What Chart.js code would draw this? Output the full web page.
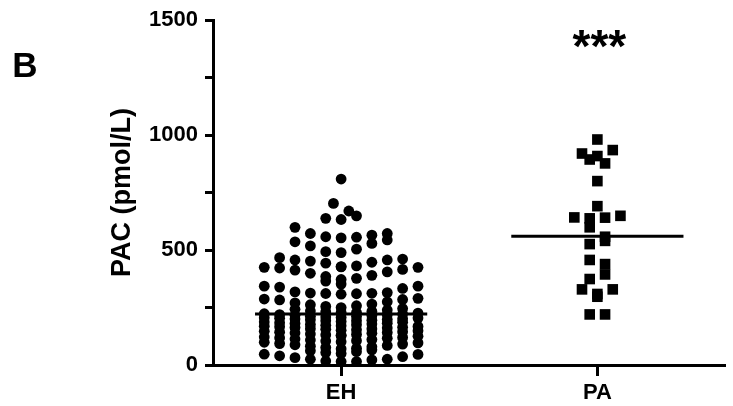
<!DOCTYPE html>
<html>
<head>
<meta charset="utf-8">
<script src="https://cdn.jsdelivr.net/npm/chart.js@4.4.1/dist/chart.umd.min.js"></script>
<style>
  html, body { margin: 0; padding: 0; background: #ffffff; }
  #wrap { width: 733px; height: 406px; }
</style>
</head>
<body>
<div id="wrap"><canvas id="c" width="733" height="406"></canvas></div>
<script>
// ---------------- data ----------------
const categories = ['EH', 'PA'];
const yAxisTitle = 'PAC (pmol/L)';
const panelLabel = 'B';
const significance = '***';
const yTicks = [0, 500, 1000, 1500];
const groupCentreLines = [222, 560];

const ehValues = [
  809, 703, 670, 649, 638, 633, 599, 572, 572, 565, 558, 556, 553, 544, 536, 529, 518, 504, 493, 489,
  467, 461, 457, 457, 452, 447, 443, 431, 428, 427, 425, 425, 422, 416, 413, 405, 399,
  390, 385, 377, 372, 365, 352, 343, 343, 339, 333,
  318, 315, 313, 312, 311, 310, 308, 290, 287, 285, 283,
  275, 270, 265, 262, 258, 255, 250, 246, 242, 239, 235,
  233, 231, 228, 228, 226, 223, 222, 219, 219, 216, 215, 212, 211, 209, 207, 206, 204, 203, 201, 200, 198, 197,
  195, 193, 192, 189, 187, 186, 184, 182, 181, 178, 176, 175, 173, 171, 169, 168, 166, 164, 163, 161, 158, 157, 155, 153, 151,
  149, 147, 145, 143, 141, 139, 138, 135, 133, 131, 129, 127, 125, 122, 120, 118, 116, 113, 111, 109, 106, 104,
  101, 99, 96, 93, 91, 88, 85, 82, 79, 76, 73, 70, 66, 62, 58, 54,
  50, 47, 46, 40, 36, 32, 25, 25, 22, 17, 15, 15
];

const paValues = [
  981, 935, 920, 909, 894, 877, 800, 691, 649, 642, 641, 638, 599,
  558, 540, 526, 457, 439, 394, 374, 329, 329, 309, 297, 220, 220
];

// ---------------- layout helpers ----------------
const FONT = '"Liberation Sans", Arial, Helvetica, sans-serif';
const SLOT = 0.06;        // horizontal spacing of swarm columns (x units)
const BIN = 60;           // height of a swarm row band (y units)
const BIN_ORIGIN = 8;
const MAX_ROW = 11;
const LINE_HALF = 0.336;  // half width of centre line (x units)

// GraphPad-like scatter: values binned into bands; each band is spread into
// rows (lowest values first), highest values of a row placed outermost.
// Bands needing several rows keep whole-slot columns so they stack into chains.
function swarm(values, centre) {
  const sorted = [...values].sort((a, b) => a - b);
  const bins = new Map();
  sorted.forEach(v => {
    const k = Math.floor((v - BIN_ORIGIN) / BIN);
    if (!bins.has(k)) bins.set(k, []);
    bins.get(k).push(v);
  });
  const pts = [];
  let flip = 1;
  for (const vs of bins.values()) {
    const multi = vs.length > MAX_ROW;
    for (let r = 0; r < vs.length; r += MAX_ROW) {
      const row = vs.slice(r, r + MAX_ROW).sort((a, b) => b - a);
      const n = row.length;
      const shift = (multi && n % 2 === 0) ? 0.5 * flip : 0;
      const offs = [];
      for (let i = 0; i < n; i++) offs.push(i - (n - 1) / 2 + shift);
      offs.sort((a, b) => (Math.abs(b) - Math.abs(a)) || (a - b) * flip);
      row.forEach((v, i) => pts.push({ x: centre + offs[i] * SLOT, y: v }));
      flip = -flip;
    }
  }
  return pts;
}

const centres = categories.map((c, i) => i + 0.5);

const datasets = [
  {
    label: categories[0],
    data: swarm(ehValues, centres[0]),
    pointStyle: 'circle', pointRadius: 5.4, pointHoverRadius: 5.4,
    backgroundColor: '#000', borderWidth: 0, showLine: false, clip: false
  },
  {
    label: categories[1],
    data: swarm(paValues, centres[1]),
    pointStyle: 'rect', pointRadius: 7.5, pointHoverRadius: 7.5,
    backgroundColor: '#000', borderWidth: 0, showLine: false, clip: false
  }
];
groupCentreLines.forEach((m, i) => {
  datasets.push({
    label: categories[i] + ' centre',
    data: [{ x: centres[i] - LINE_HALF, y: m }, { x: centres[i] + LINE_HALF, y: m }],
    showLine: true, pointRadius: 0, borderColor: '#000', borderWidth: 3, clip: false
  });
});

const extras = {
  id: 'extras',
  afterDraw(chart) {
    const { ctx, scales: { x, y } } = chart;
    ctx.save();
    ctx.fillStyle = '#000';
    ctx.textAlign = 'center';
    ctx.textBaseline = 'middle';
    ctx.font = 'bold 35px ' + FONT;
    ctx.fillText(panelLabel, 25, 67);
    ctx.font = 'bold 46px ' + FONT;
    ctx.textBaseline = 'alphabetic';
    ctx.fillText(significance, x.getPixelForValue(centres[1]) + 2, y.getPixelForValue(1318));
    ctx.restore();
  }
};

const minorStep = (yTicks[1] - yTicks[0]) / 2;

new Chart(document.getElementById('c'), {
  type: 'scatter',
  data: { datasets },
  plugins: [extras],
  options: {
    responsive: false,
    devicePixelRatio: 1,
    animation: false,
    layout: { padding: { top: 20, right: 0, bottom: 0, left: 0 } },
    plugins: { legend: { display: false }, tooltip: { enabled: false } },
    scales: {
      x: {
        type: 'linear', min: 0, max: categories.length,
        afterBuildTicks: s => { s.ticks = centres.map(v => ({ value: v })); },
        afterFit: s => { s.height = 41; },
        ticks: {
          callback: v => categories[Math.round(v - 0.5)],
          color: '#000', font: { family: FONT, size: 22, weight: 'bold' },
          padding: 4, maxRotation: 0, autoSkip: false
        },
        grid: { drawOnChartArea: false, drawTicks: true, tickLength: 11, tickWidth: 3, tickColor: '#000', color: '#000' },
        border: { display: true, width: 3, color: '#000' }
      },
      y: {
        type: 'linear', min: yTicks[0], max: yTicks[yTicks.length - 1],
        afterBuildTicks: s => {
          const t = [];
          for (let v = yTicks[0]; v <= yTicks[yTicks.length - 1]; v += minorStep) t.push({ value: v });
          s.ticks = t;
        },
        afterFit: s => { s.width = 213; },
        ticks: {
          callback: v => (yTicks.includes(v) ? String(v) : ''),
          color: '#000', font: { family: FONT, size: 22, weight: 'bold' },
          padding: 7, autoSkip: false
        },
        grid: { drawOnChartArea: false, drawTicks: true, tickLength: 8, tickWidth: 3, tickColor: '#000', color: '#000' },
        border: { display: true, width: 3, color: '#000' },
        title: {
          display: true, text: yAxisTitle, color: '#000',
          font: { family: FONT, size: 27, weight: 'bold' },
          padding: { top: 106, bottom: 0 }
        }
      }
    }
  }
});
</script>
</body>
</html>
